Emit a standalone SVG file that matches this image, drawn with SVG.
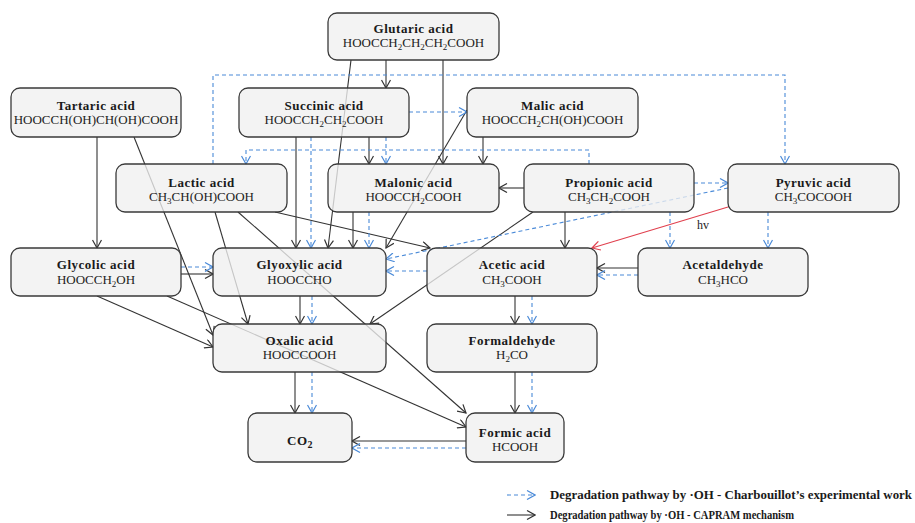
<svg xmlns="http://www.w3.org/2000/svg" width="915" height="523" viewBox="0 0 915 523">
<defs>
<style>
.box{fill:#f0f0f0;fill-opacity:0.78;stroke:#3a3a3a;stroke-width:1.3}
.n{font-family:"Liberation Serif",serif;font-weight:bold;font-size:13px;letter-spacing:0.5px;text-anchor:middle;fill:#1a1a1a}
.f{font-family:"Liberation Serif",serif;font-size:13px;text-anchor:middle;fill:#222}
.k{stroke:#333;stroke-width:1.1;fill:none;marker-end:url(#ak)}
.b{stroke:#4a8ad8;stroke-width:1.1;stroke-dasharray:4 3;fill:none;marker-end:url(#ab)}
.r{stroke:#e0404e;stroke-width:1.1;fill:none;marker-end:url(#ar)}
.lg{font-family:"Liberation Serif",serif;font-weight:bold;font-size:12.5px;fill:#1a1a1a}
</style>
<marker id="ak" viewBox="0 0 10 10" refX="9" refY="5" markerWidth="10" markerHeight="10" markerUnits="userSpaceOnUse" orient="auto"><path d="M1,0.5 L9,5 L1,9.5" fill="none" stroke="#333" stroke-width="1.2" stroke-dasharray="none"/></marker>
<marker id="ab" viewBox="0 0 10 10" refX="9" refY="5" markerWidth="10" markerHeight="10" markerUnits="userSpaceOnUse" orient="auto"><path d="M1,0.5 L9,5 L1,9.5" fill="none" stroke="#4a8ad8" stroke-width="1.2" stroke-dasharray="none"/></marker>
<marker id="ar" viewBox="0 0 10 10" refX="9" refY="5" markerWidth="10" markerHeight="10" markerUnits="userSpaceOnUse" orient="auto"><path d="M1,0.5 L9,5 L1,9.5" fill="none" stroke="#e0404e" stroke-width="1.2" stroke-dasharray="none"/></marker>
</defs>
<rect width="915" height="523" fill="#fff"/>
<g id="connectors">
<path class="k" d="M386,60 V88"/>
<path class="k" d="M351,60 L328,248"/>
<path class="k" d="M443,60 V164"/>
<path class="k" d="M97,137 V248"/>
<path class="k" d="M134,137 L213,335"/>
<path class="k" d="M296,137 V248"/>
<path class="k" d="M369,137 V164"/>
<path class="k" d="M483,137 V164"/>
<path class="k" d="M467,110 L386,248"/>
<path class="k" d="M215,212 L248,324"/>
<path class="k" d="M238,212 L466,413"/>
<path class="k" d="M275,212 L430,248"/>
<path class="k" d="M353,212 V248"/>
<path class="k" d="M524,188 H499"/>
<path class="k" d="M565,212 V248"/>
<path class="k" d="M533,212 L370,324"/>
<path class="k" d="M181,274 H213"/>
<path class="k" d="M97,296 L213,347"/>
<path class="k" d="M167,296 L466,427"/>
<path class="k" d="M300,296 V324"/>
<path class="k" d="M638,268 H597"/>
<path class="k" d="M515,296 V324"/>
<path class="k" d="M515,372 V413"/>
<path class="k" d="M295,372 V413"/>
<path class="k" d="M466,441 H352"/>
<path class="b" d="M213,164 V75 H785 V164"/>
<path class="b" d="M409,112 H467"/>
<path class="b" d="M589,164 V150 H246 V164"/>
<path class="b" d="M386,137 V164"/>
<path class="b" d="M311,137 V248"/>
<path class="b" d="M369,212 V248"/>
<path class="b" d="M694,183 H728"/>
<path class="b" d="M728,188 L386,259"/>
<path class="b" d="M181,267 H213"/>
<path class="b" d="M427,271 H386"/>
<path class="b" d="M670,212 V248"/>
<path class="b" d="M768,212 V248"/>
<path class="b" d="M638,275 H597"/>
<path class="b" d="M532,296 V324"/>
<path class="b" d="M312,296 V324"/>
<path class="b" d="M532,372 V413"/>
<path class="b" d="M312,372 V413"/>
<path class="b" d="M466,448 H352"/>
<path class="r" d="M728,207 L592,248"/>
<text x="703" y="229" font-family="Liberation Serif,serif" font-size="12" text-anchor="middle" fill="#222">hv</text>
</g>
<g id="glutaric"><rect class="box" x="328" y="13" width="171" height="47" rx="9"/><text class="n" x="413.5" y="33">Glutaric acid</text><text class="f" x="413.5" y="47">HOOCCH<tspan font-size="9" dy="3">2</tspan><tspan dy="-3">CH</tspan><tspan font-size="9" dy="3">2</tspan><tspan dy="-3">CH</tspan><tspan font-size="9" dy="3">2</tspan><tspan dy="-3">COOH</tspan></text></g>
<g id="tartaric"><rect class="box" x="11" y="88" width="170" height="49" rx="9"/><text class="n" x="96" y="109.5">Tartaric acid</text><text class="f" x="96" y="123.5" font-size="12">HOOCCH(OH)CH(OH)COOH</text></g>
<g id="succinic"><rect class="box" x="239" y="88" width="170" height="49" rx="9"/><text class="n" x="324" y="109.5">Succinic acid</text><text class="f" x="324" y="123.5">HOOCCH<tspan font-size="9" dy="3">2</tspan><tspan dy="-3">CH</tspan><tspan font-size="9" dy="3">2</tspan><tspan dy="-3">COOH</tspan></text></g>
<g id="malic"><rect class="box" x="467" y="88" width="171" height="49" rx="9"/><text class="n" x="552.5" y="109.5">Malic acid</text><text class="f" x="552.5" y="123.5">HOOCCH<tspan font-size="9" dy="3">2</tspan><tspan dy="-3">CH(OH)COOH</tspan></text></g>
<g id="lactic"><rect class="box" x="116" y="164" width="171" height="48" rx="9"/><text class="n" x="201.5" y="186.5">Lactic acid</text><text class="f" x="201.5" y="200.5">CH<tspan font-size="9" dy="3">3</tspan><tspan dy="-3">CH(OH)COOH</tspan></text></g>
<g id="malonic"><rect class="box" x="328" y="164" width="171" height="48" rx="9"/><text class="n" x="413.5" y="186.5">Malonic acid</text><text class="f" x="413.5" y="200.5">HOOCCH<tspan font-size="9" dy="3">2</tspan><tspan dy="-3">COOH</tspan></text></g>
<g id="propionic"><rect class="box" x="524" y="164" width="170" height="48" rx="9"/><text class="n" x="609" y="186.5">Propionic acid</text><text class="f" x="609" y="200.5">CH<tspan font-size="9" dy="3">3</tspan><tspan dy="-3">CH</tspan><tspan font-size="9" dy="3">2</tspan><tspan dy="-3">COOH</tspan></text></g>
<g id="pyruvic"><rect class="box" x="728" y="164" width="171" height="48" rx="9"/><text class="n" x="813.5" y="186.5">Pyruvic acid</text><text class="f" x="813.5" y="200.5">CH<tspan font-size="9" dy="3">3</tspan><tspan dy="-3">COCOOH</tspan></text></g>
<g id="glycolic"><rect class="box" x="11" y="248" width="170" height="48" rx="9"/><text class="n" x="96" y="268.5">Glycolic acid</text><text class="f" x="96" y="283.5">HOOCCH<tspan font-size="9" dy="3">2</tspan><tspan dy="-3">OH</tspan></text></g>
<g id="glyoxylic"><rect class="box" x="213" y="248" width="173" height="48" rx="9"/><text class="n" x="299.5" y="268.5">Glyoxylic acid</text><text class="f" x="299.5" y="283.5">HOOCCHO</text></g>
<g id="acetic"><rect class="box" x="427" y="248" width="170" height="48" rx="9"/><text class="n" x="512" y="268.5">Acetic acid</text><text class="f" x="512" y="283.5">CH<tspan font-size="9" dy="3">3</tspan><tspan dy="-3">COOH</tspan></text></g>
<g id="acetaldehyde"><rect class="box" x="638" y="248" width="170" height="48" rx="9"/><text class="n" x="723" y="268.5">Acetaldehyde</text><text class="f" x="723" y="283.5">CH<tspan font-size="9" dy="3">3</tspan><tspan dy="-3">HCO</tspan></text></g>
<g id="oxalic"><rect class="box" x="213" y="324" width="173" height="48" rx="9"/><text class="n" x="299.5" y="344.5">Oxalic acid</text><text class="f" x="299.5" y="358.5">HOOCCOOH</text></g>
<g id="formaldehyde"><rect class="box" x="427" y="324" width="170" height="48" rx="9"/><text class="n" x="512" y="344.5">Formaldehyde</text><text class="f" x="512" y="358.5">H<tspan font-size="9" dy="3">2</tspan><tspan dy="-3">CO</tspan></text></g>
<g id="co2"><rect class="box" x="248" y="413" width="104" height="49" rx="9"/><text class="n" x="300" y="445" font-size="15">CO<tspan font-size="10" dy="3">2</tspan></text></g>
<g id="formic"><rect class="box" x="466" y="413" width="98" height="49" rx="9"/><text class="n" x="515" y="436.5">Formic acid</text><text class="f" x="515" y="450.5">HCOOH</text></g>
<g id="legend">
<path class="b" d="M507,495 H535"/>
<text class="lg" x="550" y="499" textLength="362" lengthAdjust="spacingAndGlyphs">Degradation pathway by ·OH - Charbouillot’s experimental work</text>
<path class="k" d="M507,515 H535"/>
<text class="lg" x="550" y="519" textLength="244" lengthAdjust="spacingAndGlyphs">Degradation pathway by ·OH - CAPRAM mechanism</text>
</g>
</svg>
